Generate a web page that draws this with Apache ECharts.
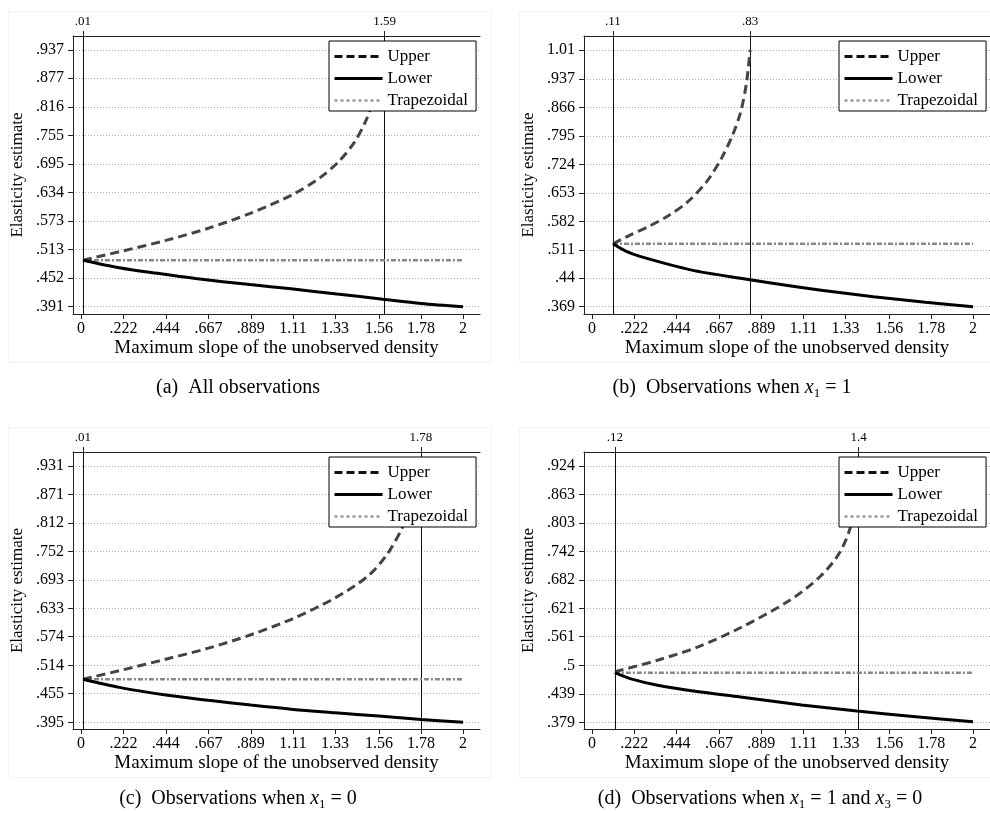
<!DOCTYPE html>
<html>
<head>
<meta charset="utf-8">
<script src="https://cdn.jsdelivr.net/npm/echarts@6/dist/echarts.min.js"></script>
<style>
html, body { margin: 0; padding: 0; background: #fff; }
#main { width: 990px; height: 813px; }
</style>
</head>
<body>
<div id="main"></div>
<script>
"use strict";
const serif = '"Liberation Serif", "Times New Roman", serif';

// tick labels
const xTickLabels = ['0', '.222', '.444', '.667', '.889', '1.11', '1.33', '1.56', '1.78', '2'];
const yTicksA = ['.391', '.452', '.513', '.573', '.634', '.695', '.755', '.816', '.877', '.937'];
const yTicksB = ['.369', '.44', '.511', '.582', '.653', '.724', '.795', '.866', '.937', '1.01'];
const yTicksC = ['.395', '.455', '.514', '.574', '.633', '.693', '.752', '.812', '.871', '.931'];
const yTicksD = ['.379', '.439', '.5', '.561', '.621', '.682', '.742', '.803', '.863', '.924'];

// vertical reference lines (top axis)
const cutsA = ['.01', '1.59'];
const cutsB = ['.11', '.83'];
const cutsC = ['.01', '1.78'];
const cutsD = ['.12', '1.4'];

// (a) all observations
const upperA = [[0.01, 0.490], [0.222, 0.510], [0.444, 0.532], [0.667, 0.558], [0.889, 0.590], [1.11, 0.630], [1.25, 0.665], [1.35, 0.700], [1.43, 0.740], [1.49, 0.785], [1.53, 0.830], [1.56, 0.875], [1.59, 0.937]];
const lowerA = [[0.01, 0.490], [0.2, 0.474], [0.4, 0.462], [0.6, 0.451], [0.885, 0.438], [1.1, 0.429], [1.34, 0.418], [1.58, 0.407], [1.78, 0.398], [2, 0.391]];
const trapA = [[0.01, 0.490], [2, 0.490]];

// (b) x1 = 1
const upperB = [[0.11, 0.526], [0.2, 0.548], [0.3, 0.570], [0.4, 0.596], [0.5, 0.630], [0.6, 0.680], [0.68, 0.740], [0.74, 0.800], [0.78, 0.855], [0.81, 0.925], [0.83, 1.01]];
const lowerB = [[0.11, 0.526], [0.18, 0.507], [0.256, 0.494], [0.518, 0.461], [0.779, 0.440], [1.128, 0.415], [1.477, 0.394], [1.75, 0.380], [2, 0.369]];
const trapB = [[0.11, 0.526], [2, 0.526]];

// (c) x1 = 0
const upperC = [[0.01, 0.485], [0.222, 0.505], [0.444, 0.527], [0.667, 0.550], [0.889, 0.578], [1.11, 0.612], [1.33, 0.655], [1.5, 0.700], [1.6, 0.745], [1.68, 0.800], [1.74, 0.860], [1.78, 0.931]];
const lowerC = [[0.01, 0.485], [0.2, 0.468], [0.444, 0.452], [0.667, 0.441], [0.889, 0.431], [1.11, 0.422], [1.33, 0.415], [1.56, 0.408], [1.78, 0.401], [2, 0.395]];
const trapC = [[0.01, 0.485], [2, 0.485]];

// (d) x1 = 1 and x3 = 0
const upperD = [[0.12, 0.4866], [0.344, 0.511], [0.56, 0.540], [0.779, 0.580], [1.04, 0.639], [1.2, 0.690], [1.3, 0.740], [1.36, 0.800], [1.4, 0.924]];
const lowerD = [[0.12, 0.4845], [0.2, 0.472], [0.344, 0.458], [0.56, 0.444], [0.779, 0.433], [1.1, 0.416], [1.39, 0.403], [1.7, 0.391], [2, 0.380]];
const trapD = [[0.12, 0.4845], [2, 0.4845]];

const panels = [
  { grid: [73, 36, 407, 278], y: [0.3755, 0.9668], ticks: yTicksA, cuts: cutsA, up: upperA, lo: lowerA, tr: trapA, legend: [329, 41] },
  { grid: [584, 36, 406, 278], y: [0.3508, 1.045], ticks: yTicksB, cuts: cutsB, up: upperB, lo: lowerB, tr: trapB, legend: [839, 41] },
  { grid: [73, 452, 407, 277], y: [0.381, 0.9602], ticks: yTicksC, cuts: cutsC, up: upperC, lo: lowerC, tr: trapC, legend: [329, 457] },
  { grid: [584, 452, 406, 277], y: [0.3648, 0.9537], ticks: yTicksD, cuts: cutsD, up: upperD, lo: lowerD, tr: trapD, legend: [839, 457] }
];

function labelOf(list) {
  return function (v) {
    for (let i = 0; i < list.length; i++) {
      if (Math.abs(parseFloat(list[i]) - v) < 1e-9) return list[i];
    }
    return '';
  };
}

const xVals = xTickLabels.map(parseFloat);

let grids = [], xAxes = [], yAxes = [], series = [], legends = [];
panels.forEach(function (p, i) {
  grids.push({ left: p.grid[0], top: p.grid[1], width: p.grid[2], height: p.grid[3] });
  const yVals = p.ticks.map(parseFloat);
  const cutVals = p.cuts.map(parseFloat);
  // bottom axis
  xAxes.push({
    type: 'value', gridIndex: i, position: 'bottom', min: -0.042, max: 2.089,
    name: 'Maximum slope of the unobserved density', nameLocation: 'middle', nameGap: 25,
    nameTextStyle: { fontFamily: serif, fontSize: 19, color: '#000' },
    axisLine: { show: true, onZero: false, lineStyle: { color: '#222', width: 1 } },
    axisTick: { show: true, length: 5, customValues: xVals, lineStyle: { color: '#222' } },
    axisLabel: { customValues: xVals, formatter: labelOf(xTickLabels), margin: 7, fontFamily: serif, fontSize: 16, color: '#000' },
    splitLine: { show: false }
  });
  // top axis with the cut-off lines
  xAxes.push({
    type: 'value', gridIndex: i, position: 'top', min: -0.042, max: 2.089,
    axisLine: { show: true, onZero: false, lineStyle: { color: '#222', width: 1 } },
    axisTick: { show: true, length: 5, customValues: cutVals, lineStyle: { color: '#222' } },
    axisLabel: { customValues: cutVals, formatter: labelOf(p.cuts), margin: 8, fontFamily: serif, fontSize: 13, color: '#000' },
    splitLine: { show: true, lineStyle: { color: '#111', width: 1, type: 'solid' } }
  });
  yAxes.push({
    type: 'value', gridIndex: i, min: p.y[0], max: p.y[1],
    name: 'Elasticity estimate', nameLocation: 'middle', nameGap: 47, nameRotate: 90,
    nameTextStyle: { fontFamily: serif, fontSize: 17, color: '#000' },
    axisLine: { show: true, onZero: false, lineStyle: { color: '#222', width: 1 } },
    axisTick: { show: true, length: 5, customValues: yVals, lineStyle: { color: '#222' } },
    axisLabel: { customValues: yVals, formatter: labelOf(p.ticks), margin: 9, fontFamily: serif, fontSize: 16, color: '#000' },
    splitLine: { show: true, lineStyle: { color: '#aaa', width: 1, type: [1, 2] } }
  });
  series.push({
    name: 'Upper', type: 'line', xAxisIndex: 2 * i, yAxisIndex: i, data: p.up,
    symbol: 'none', smooth: 0.3, z: 3,
    lineStyle: { color: '#444', width: 3, type: [9, 5] }, itemStyle: { color: '#444' }
  });
  series.push({
    name: 'Lower', type: 'line', xAxisIndex: 2 * i, yAxisIndex: i, data: p.lo,
    symbol: 'none', smooth: 0.3, z: 3,
    lineStyle: { color: '#000', width: 3 }, itemStyle: { color: '#000' }
  });
  series.push({
    name: 'Trapezoidal', type: 'line', xAxisIndex: 2 * i, yAxisIndex: i, data: p.tr,
    symbol: 'none', z: 2,
    lineStyle: { color: '#888', width: 2.5, type: [5, 2, 2, 2] }, itemStyle: { color: '#888' }
  });
  legends.push({
    left: p.legend[0], top: p.legend[1], orient: 'vertical',
    itemWidth: 48, itemHeight: 14, itemGap: 5, padding: [7, 8, 2, 4],
    borderColor: '#000', borderWidth: 1, borderRadius: 0, backgroundColor: '#fff',
    selectedMode: false,
    itemStyle: { opacity: 0, borderWidth: 0 },
    textStyle: { fontFamily: serif, fontSize: 17, color: '#000' },
    data: [
      { name: 'Upper', lineStyle: { color: '#111', width: 3, type: [8, 4] } },
      { name: 'Lower', lineStyle: { color: '#000', width: 3, type: 'solid' } },
      { name: 'Trapezoidal', lineStyle: { color: '#999', width: 2.5, type: [3, 3] } }
    ]
  });
});

// sub-figure captions
const captionRich = {
  n: { fontFamily: serif, fontSize: 20, color: '#000', lineHeight: 26 },
  i: { fontFamily: serif, fontSize: 20, fontStyle: 'italic', color: '#000', lineHeight: 26 },
  s: { fontFamily: serif, fontSize: 13, color: '#000', verticalAlign: 'bottom', lineHeight: 13, padding: [0, 0, 1, 0] }
};
const captions = [
  { x: 238, y: 388, text: '{n|(a)  All observations}' },
  { x: 732, y: 388, text: '{n|(b)  Observations when }{i|x}{s|1}{n| = 1}' },
  { x: 238, y: 799, text: '{n|(c)  Observations when }{i|x}{s|1}{n| = 0}' },
  { x: 760, y: 799, text: '{n|(d)  Observations when }{i|x}{s|1}{n| = 1 and }{i|x}{s|3}{n| = 0}' }
];
const frames = [[8, 11, 483, 351], [519, 11, 480, 351], [8, 427, 483, 350], [519, 427, 480, 350]];

let graphics = [];
frames.forEach(function (f) {
  graphics.push({ type: 'rect', shape: { x: f[0] + 0.5, y: f[1] + 0.5, width: f[2], height: f[3] }, style: { fill: 'none', stroke: '#f0f3f5', lineWidth: 1 }, z: -1, silent: true });
});
captions.forEach(function (c) {
  graphics.push({ type: 'text', x: c.x, y: c.y, style: { text: c.text, rich: captionRich, align: 'center', verticalAlign: 'middle' }, silent: true });
});

const myChart = echarts.init(document.getElementById('main'), null, { renderer: 'canvas' });
myChart.setOption({
  animation: false,
  backgroundColor: '#fff',
  grid: grids,
  xAxis: xAxes,
  yAxis: yAxes,
  legend: legends,
  series: series,
  graphic: graphics
});
</script>
</body>
</html>
